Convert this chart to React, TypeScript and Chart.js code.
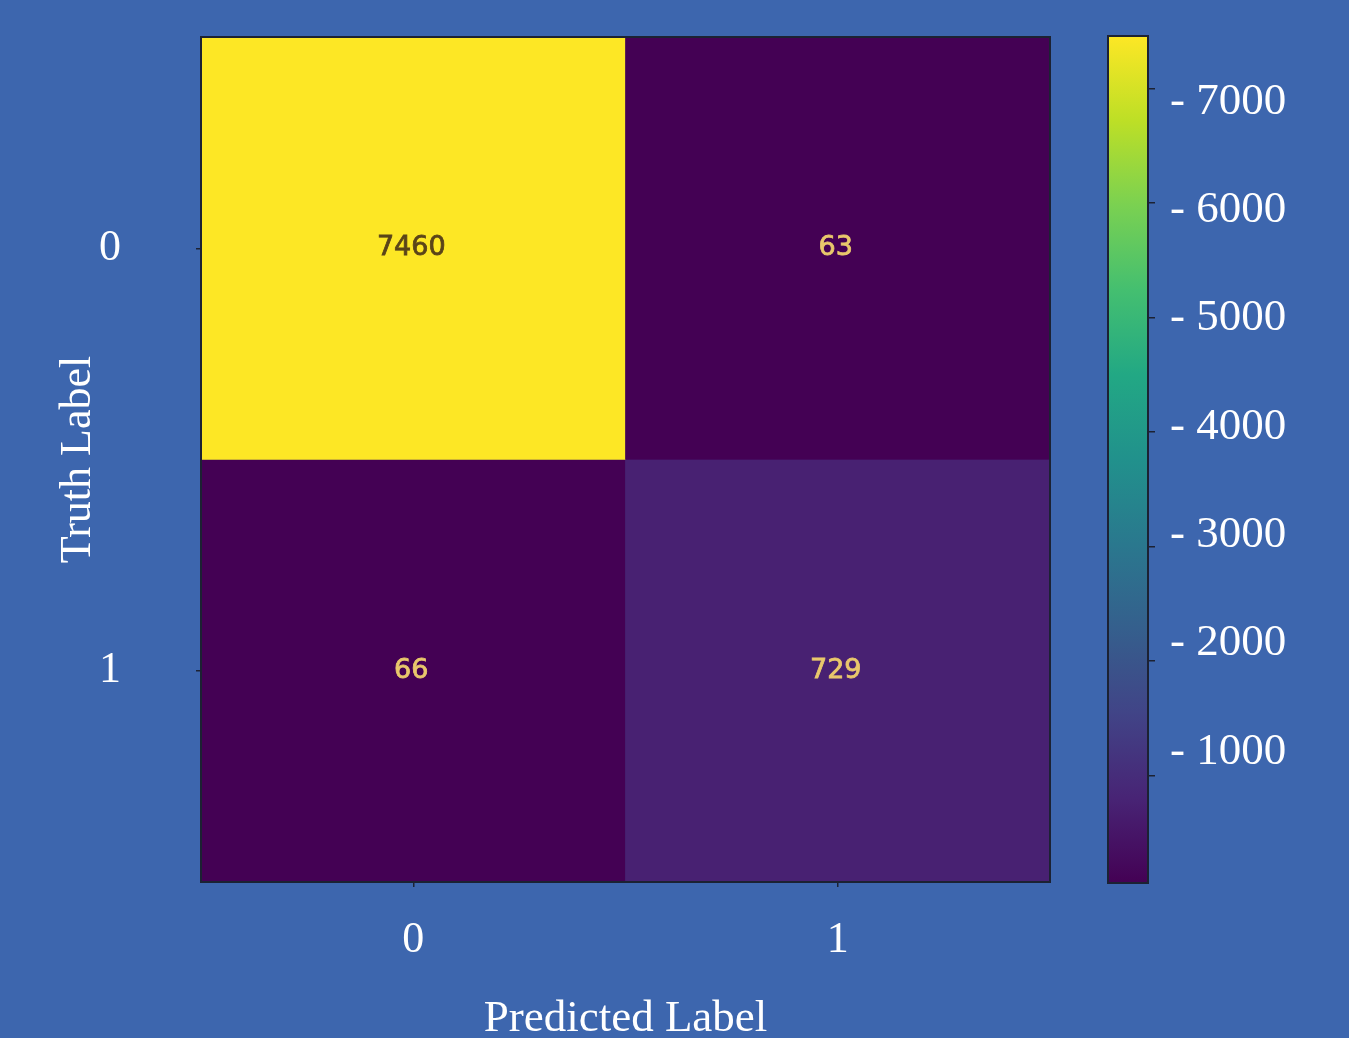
import React, { useEffect, useRef } from "react";
import { Chart, registerables } from "chart.js";
Chart.register(...registerables);

// ---- data ----
const predictedLabels = ["0", "1"];
const truthLabels = ["0", "1"];
const truthRow0 = [7460, 63];
const truthRow1 = [66, 729];
const matrix = [truthRow0, truthRow1];
const colorbarTicks = [1000, 2000, 3000, 4000, 5000, 6000, 7000];

// ---- style ----
const BG = "#3d66ae";
const SERIF = "'Liberation Serif', 'Times New Roman', serif";
const SANS = "'DejaVu Sans', sans-serif";
const EDGE = "#1c2233";
const VIRIDIS = [
  "#440154", "#482475", "#414487", "#355f8d", "#2a788e", "#21918c",
  "#22a884", "#44bf70", "#7ad151", "#bddf26", "#fde725",
];

const allValues = matrix.flat();
const vmin = Math.min(...allValues);
const vmax = Math.max(...allValues);

function hexToRgb(h: string) {
  const n = parseInt(h.slice(1), 16);
  return [(n >> 16) & 255, (n >> 8) & 255, n & 255];
}
function viridis(t: number) {
  const x = Math.max(0, Math.min(1, t)) * (VIRIDIS.length - 1);
  const i = Math.min(VIRIDIS.length - 2, Math.floor(x));
  const f = x - i;
  const a = hexToRgb(VIRIDIS[i]);
  const b = hexToRgb(VIRIDIS[i + 1]);
  const c = a.map((v, k) => Math.round(v + (b[k] - v) * f));
  return `rgb(${c[0]},${c[1]},${c[2]})`;
}
const norm = (v: number) => (v - vmin) / (vmax - vmin);

const outlinePlugin = {
  id: "outline",
  afterDraw(chart: any) {
    const { ctx, chartArea: a } = chart;
    ctx.save();
    ctx.strokeStyle = EDGE;
    ctx.lineWidth = 2;
    ctx.strokeRect(a.left, a.top, a.right - a.left, a.bottom - a.top);
    ctx.restore();
  },
};

const cellTextPlugin = {
  id: "cellText",
  afterDatasetsDraw(chart: any) {
    const { ctx } = chart;
    ctx.save();
    ctx.font = `27px ${SANS}`;
    ctx.textAlign = "center";
    ctx.textBaseline = "middle";
    ctx.lineWidth = 0.8;
    chart.data.datasets.forEach((ds: any, r: number) => {
      const meta = chart.getDatasetMeta(r);
      meta.data.forEach((el: any, c: number) => {
        const v = matrix[r][c];
        const p = el.getProps(["x", "y", "base"], true);
        const col = norm(v) > 0.5 ? "#5a4419" : "#e9c86c";
        ctx.fillStyle = col;
        ctx.strokeStyle = col;
        const cy = (p.y + p.base) / 2;
        ctx.fillText(String(v), p.x - 2, cy);
        ctx.strokeText(String(v), p.x - 2, cy);
      });
    });
    ctx.restore();
  },
};

export default function App() {
  const mainRef = useRef<HTMLCanvasElement>(null);
  const barRef = useRef<HTMLCanvasElement>(null);

  useEffect(() => {
    const serifFont = { family: SERIF, size: 44 };
    const tickGrid = {
      display: true,
      offset: false,
      drawOnChartArea: false,
      drawTicks: true,
      tickLength: 5,
      color: EDGE,
      lineWidth: 1.5,
    };
    const main = new Chart(mainRef.current as HTMLCanvasElement, {
      type: "bar",
      data: {
        labels: predictedLabels,
        datasets: matrix.map((row, r) => ({
          label: truthLabels[r],
          data: row.map(() => [r - 0.5, r + 0.5]) as any,
          backgroundColor: row.map((v) => viridis(norm(v))),
          borderWidth: 0,
          barPercentage: 1,
          categoryPercentage: 1,
          grouped: false,
        })),
      },
      options: {
        responsive: false,
        animation: false,
        events: [],
        layout: { padding: { left: 48, top: 37, right: 299, bottom: 0 } },
        plugins: { legend: { display: false }, tooltip: { enabled: false } },
        scales: {
          x: {
            type: "category",
            position: "bottom",
            grid: tickGrid,
            border: { display: false },
            ticks: { color: "#ffffff", font: serifFont, padding: 27, maxRotation: 0 },
            title: {
              display: true,
              text: "Predicted Label",
              color: "#ffffff",
              font: { family: SERIF, size: 45 },
              padding: { top: 0, bottom: -8 },
            },
            afterFit: (s: any) => {
              s.height = 156;
              s.paddingLeft = 0;
              s.paddingRight = 0;
            },
          },
          y: {
            type: "linear",
            min: -0.5,
            max: 1.5,
            reverse: true,
            grid: tickGrid,
            border: { display: false },
            afterBuildTicks: (s: any) => {
              s.ticks = truthLabels.map((_, i) => ({ value: i }));
            },
            ticks: {
              color: "#ffffff",
              font: serifFont,
              padding: 75,
              callback: (v: any) => truthLabels[v as number],
            },
            title: {
              display: true,
              text: "Truth Label",
              color: "#ffffff",
              font: serifFont,
              padding: { top: 4, bottom: 0 },
            },
            afterFit: (s: any) => {
              s.width = 153;
              s.paddingTop = 0;
              s.paddingBottom = 0;
            },
          },
        },
      } as any,
      plugins: [cellTextPlugin, outlinePlugin],
    });

    const bar = new Chart(barRef.current as HTMLCanvasElement, {
      type: "bar",
      data: {
        labels: [""],
        datasets: [
          {
            data: [[vmin, vmax]] as any,
            backgroundColor: (ctx: any) => {
              const a = ctx.chart.chartArea;
              if (!a) return VIRIDIS[0];
              const g = ctx.chart.ctx.createLinearGradient(0, a.bottom, 0, a.top);
              VIRIDIS.forEach((c, i) => g.addColorStop(i / (VIRIDIS.length - 1), c));
              return g;
            },
            borderWidth: 0,
            barPercentage: 1,
            categoryPercentage: 1,
          },
        ],
      },
      options: {
        responsive: false,
        animation: false,
        events: [],
        layout: { padding: { left: 18, top: 36, right: 0, bottom: 155 } },
        plugins: { legend: { display: false }, tooltip: { enabled: false } },
        scales: {
          x: { display: false },
          y: {
            type: "linear",
            position: "right",
            min: vmin,
            max: vmax,
            afterBuildTicks: (s: any) => {
              s.ticks = colorbarTicks.map((v) => ({ value: v }));
            },
            ticks: { display: false },
            grid: {
              display: true,
              drawOnChartArea: false,
              drawTicks: true,
              tickLength: 7,
              color: EDGE,
              lineWidth: 1.5,
            },
            border: { display: false },
            afterFit: (s: any) => {
              s.width = 7;
              s.paddingTop = 0;
              s.paddingBottom = 0;
            },
          },
          yl: {
            type: "linear",
            position: "right",
            min: -210,
            max: 7609,
            afterBuildTicks: (s: any) => {
              s.ticks = colorbarTicks.map((v) => ({ value: v }));
            },
            ticks: {
              color: "#ffffff",
              font: { family: SERIF, size: 45 },
              padding: 15,
              callback: (v: any) => "- " + v,
            },
            grid: { display: false, drawTicks: false },
            border: { display: false },
            afterFit: (s: any) => {
              s.width = 194;
              s.paddingTop = 0;
              s.paddingBottom = 0;
            },
          },
        },
      } as any,
      plugins: [outlinePlugin],
    });

    return () => {
      main.destroy();
      bar.destroy();
    };
  }, []);

  return (
    <div style={{ position: "fixed", inset: 0, background: BG, overflow: "hidden" }}>
      <canvas
        ref={mainRef}
        width={1349}
        height={1038}
        style={{ position: "absolute", left: 0, top: 0, width: 1349, height: 1038 }}
      />
      <canvas
        ref={barRef}
        width={259}
        height={1038}
        style={{ position: "absolute", left: 1090, top: 0, width: 259, height: 1038 }}
      />
    </div>
  );
}
